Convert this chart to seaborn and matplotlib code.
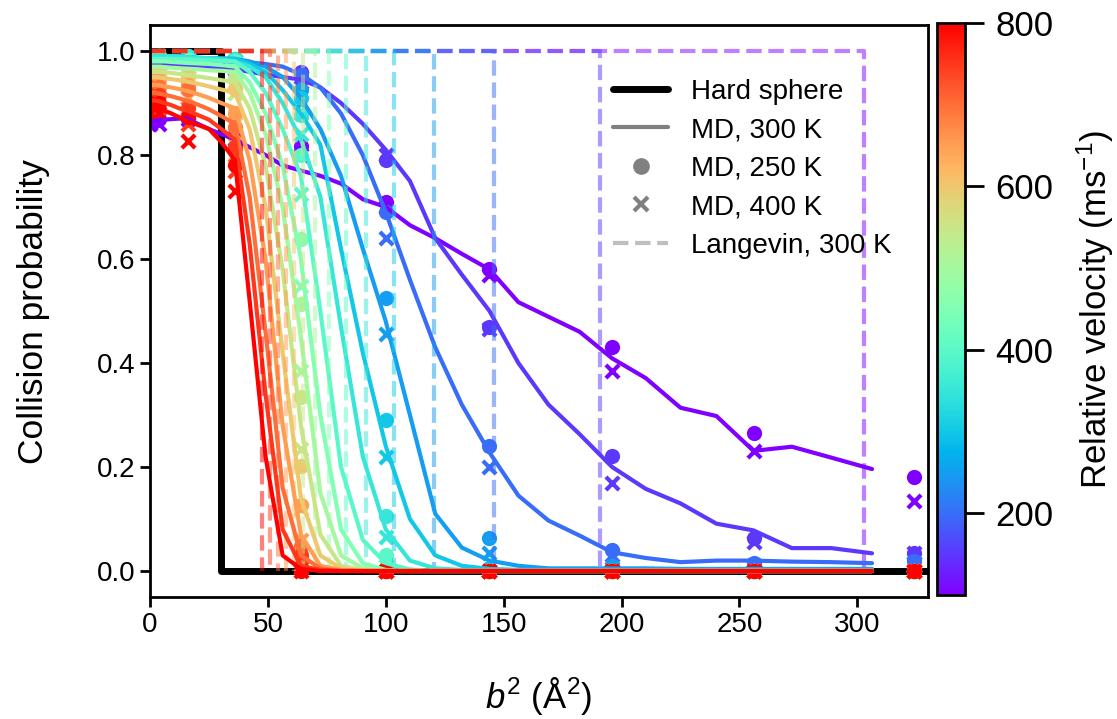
import numpy as np
import matplotlib
matplotlib.use("Agg")
import matplotlib.pyplot as plt
import seaborn as sns
from matplotlib.lines import Line2D

sns.set_style("ticks")
plt.rcParams["font.family"] = ["Liberation Sans", "DejaVu Sans"]
plt.rcParams["mathtext.fontset"] = "custom"
plt.rcParams["mathtext.rm"] = "Liberation Sans"
plt.rcParams["mathtext.it"] = "Liberation Sans:italic"
for key in ["text.color", "axes.labelcolor", "xtick.color", "ytick.color", "axes.edgecolor"]:
    plt.rcParams[key] = "black"

# relative velocities (m/s), one colour each
velocities = [100, 150, 200, 250, 300, 350, 400, 450, 500, 550, 600, 650, 700, 750, 800]

# impact parameters
b_line = [0, 0.5, 1, 1.5, 2, 2.5, 3, 3.5, 4, 4.5, 5, 5.5, 6, 6.5, 7, 7.5, 8, 8.5,
          9, 9.5, 10, 10.5, 11, 11.5, 12, 12.5, 13, 13.5, 14, 14.5, 15, 15.5, 16, 16.5, 17, 17.5]
b_marker = [0, 2, 4, 6, 8, 10, 12, 14, 16, 18]

hard_sphere_b2 = 30
langevin_b2 = [303, 191, 146, 120.5, 103.5, 91.5, 83, 76, 70, 65, 61, 57.5, 54.5, 51, 47.5]

# MD 300 K, one row per velocity, values at b_line
md300 = [
    [0.865, 0.865, 0.865, 0.866, 0.867, 0.868, 0.869, 0.87, 0.87, 0.86, 0.85, 0.84, 0.83, 0.815, 0.80, 0.78, 0.77, 0.76,
     0.745, 0.715, 0.70, 0.665, 0.64, 0.61, 0.58, 0.517, 0.489, 0.46, 0.409, 0.371, 0.314, 0.298, 0.231, 0.239, 0.218, 0.196],
    [0.975, 0.975, 0.975, 0.975, 0.975, 0.975, 0.974, 0.973, 0.972, 0.97, 0.968, 0.966, 0.965, 0.96, 0.955, 0.95, 0.945, 0.93,
     0.90, 0.86, 0.81, 0.75, 0.64, 0.57, 0.50, 0.40, 0.32, 0.263, 0.20, 0.158, 0.13, 0.091, 0.078, 0.044, 0.044, 0.034],
    [0.985, 0.985, 0.985, 0.985, 0.985, 0.985, 0.985, 0.984, 0.983, 0.982, 0.981, 0.98, 0.98, 0.978, 0.975, 0.97, 0.955, 0.93,
     0.88, 0.80, 0.69, 0.56, 0.43, 0.32, 0.228, 0.145, 0.097, 0.068, 0.036, 0.025, 0.017, 0.02, 0.02, 0.018, 0.017, 0.015],
    [0.99, 0.99, 0.99, 0.99, 0.99, 0.99, 0.99, 0.99, 0.988, 0.987, 0.986, 0.985, 0.985, 0.98, 0.97, 0.95, 0.91, 0.85,
     0.76, 0.62, 0.48, 0.30, 0.11, 0.045, 0.02, 0.01, 0.005, 0.005, 0.005, 0.005, 0.004, 0.004, 0.004, 0.004, 0.004, 0.004],
    [0.99, 0.99, 0.99, 0.99, 0.99, 0.99, 0.99, 0.99, 0.988, 0.987, 0.986, 0.986, 0.985, 0.975, 0.96, 0.925, 0.88, 0.82,
     0.62, 0.42, 0.24, 0.10, 0.03, 0.01, 0.004, 0.002, 0.002, 0.002, 0.002, 0.002, 0.002, 0.002, 0.002, 0.002, 0.002, 0.002],
    [0.99, 0.99, 0.99, 0.99, 0.99, 0.99, 0.99, 0.989, 0.988, 0.987, 0.986, 0.984, 0.98, 0.97, 0.95, 0.90, 0.83, 0.72,
     0.47, 0.22, 0.08, 0.02, 0.005, 0.002, 0, 0, 0, 0, 0, 0, 0, 0, 0, 0, 0, 0],
    [0.985, 0.985, 0.985, 0.985, 0.985, 0.985, 0.985, 0.984, 0.984, 0.983, 0.982, 0.981, 0.98, 0.96, 0.92, 0.85, 0.76, 0.50,
     0.20, 0.06, 0.015, 0.003, 0, 0, 0, 0, 0, 0, 0, 0, 0, 0, 0, 0, 0, 0],
    [0.98, 0.98, 0.98, 0.98, 0.98, 0.98, 0.979, 0.978, 0.977, 0.976, 0.975, 0.973, 0.97, 0.94, 0.88, 0.78, 0.60, 0.30,
     0.08, 0.015, 0.002, 0, 0, 0, 0, 0, 0, 0, 0, 0, 0, 0, 0, 0, 0, 0],
    [0.97, 0.97, 0.97, 0.97, 0.97, 0.969, 0.968, 0.967, 0.966, 0.965, 0.963, 0.962, 0.96, 0.92, 0.84, 0.70, 0.45, 0.15,
     0.03, 0.005, 0, 0, 0, 0, 0, 0, 0, 0, 0, 0, 0, 0, 0, 0, 0, 0],
    [0.96, 0.96, 0.96, 0.96, 0.96, 0.959, 0.958, 0.956, 0.954, 0.951, 0.948, 0.944, 0.94, 0.89, 0.78, 0.58, 0.28, 0.07,
     0.01, 0.002, 0, 0, 0, 0, 0, 0, 0, 0, 0, 0, 0, 0, 0, 0, 0, 0],
    [0.95, 0.95, 0.95, 0.95, 0.949, 0.948, 0.946, 0.944, 0.941, 0.937, 0.932, 0.926, 0.92, 0.85, 0.70, 0.42, 0.14, 0.03,
     0.005, 0, 0, 0, 0, 0, 0, 0, 0, 0, 0, 0, 0, 0, 0, 0, 0, 0],
    [0.935, 0.935, 0.935, 0.935, 0.934, 0.932, 0.93, 0.927, 0.923, 0.917, 0.91, 0.90, 0.89, 0.79, 0.60, 0.28, 0.07, 0.01,
     0.002, 0, 0, 0, 0, 0, 0, 0, 0, 0, 0, 0, 0, 0, 0, 0, 0, 0],
    [0.92, 0.92, 0.92, 0.92, 0.918, 0.916, 0.913, 0.909, 0.904, 0.897, 0.888, 0.875, 0.86, 0.72, 0.46, 0.16, 0.03, 0.005,
     0, 0, 0, 0, 0, 0, 0, 0, 0, 0, 0, 0, 0, 0, 0, 0, 0, 0],
    [0.905, 0.905, 0.905, 0.905, 0.903, 0.90, 0.896, 0.89, 0.885, 0.877, 0.868, 0.85, 0.83, 0.63, 0.34, 0.08, 0.01, 0.002,
     0, 0, 0, 0, 0, 0, 0, 0, 0, 0, 0, 0, 0, 0, 0, 0, 0, 0],
    [0.89, 0.89, 0.89, 0.89, 0.888, 0.885, 0.88, 0.873, 0.865, 0.858, 0.85, 0.825, 0.79, 0.52, 0.22, 0.03, 0.004, 0,
     0, 0, 0, 0, 0, 0, 0, 0, 0, 0, 0, 0, 0, 0, 0, 0, 0, 0],
]

# MD 250 K, values at b_marker
md250 = [
    [0.87, 0.87, 0.87, 0.84, 0.818, 0.71, 0.58, 0.43, 0.266, 0.18],
    [0.98, 0.98, 0.975, 0.97, 0.96, 0.79, 0.47, 0.221, 0.063, 0.035],
    [0.99, 0.99, 0.985, 0.98, 0.953, 0.69, 0.24, 0.04, 0.015, 0.02],
    [0.99, 0.99, 0.99, 0.985, 0.925, 0.525, 0.063, 0.01, 0, 0],
    [0.99, 0.99, 0.99, 0.985, 0.91, 0.29, 0.005, 0, 0, 0],
    [0.99, 0.99, 0.99, 0.985, 0.876, 0.106, 0, 0, 0, 0],
    [0.99, 0.99, 0.985, 0.98, 0.80, 0.03, 0, 0, 0, 0],
    [0.985, 0.985, 0.98, 0.975, 0.638, 0.005, 0, 0, 0, 0],
    [0.975, 0.975, 0.97, 0.962, 0.513, 0, 0, 0, 0, 0],
    [0.965, 0.965, 0.96, 0.945, 0.334, 0, 0, 0, 0, 0],
    [0.955, 0.955, 0.95, 0.927, 0.2025, 0, 0, 0, 0, 0],
    [0.945, 0.945, 0.935, 0.88, 0.126, 0, 0, 0, 0, 0],
    [0.93, 0.93, 0.927, 0.854, 0.049, 0, 0, 0, 0, 0],
    [0.915, 0.915, 0.89, 0.815, 0.03, 0, 0, 0, 0, 0],
    [0.90, 0.90, 0.873, 0.78, 0, 0, 0, 0, 0, 0],
]

# MD 400 K, values at b_marker
md400 = [
    [0.86, 0.86, 0.87, 0.83, 0.80, 0.70, 0.57, 0.385, 0.231, 0.135],
    [0.975, 0.975, 0.97, 0.965, 0.95, 0.80, 0.465, 0.17, 0.055, 0.035],
    [0.985, 0.985, 0.98, 0.975, 0.94, 0.64, 0.20, 0.03, 0.012, 0.015],
    [0.985, 0.985, 0.985, 0.98, 0.90, 0.455, 0.035, 0.005, 0, 0],
    [0.985, 0.985, 0.985, 0.98, 0.88, 0.22, 0, 0, 0, 0],
    [0.985, 0.985, 0.985, 0.98, 0.84, 0.065, 0, 0, 0, 0],
    [0.98, 0.98, 0.98, 0.97, 0.725, 0.01, 0, 0, 0, 0],
    [0.975, 0.975, 0.97, 0.96, 0.549, 0, 0, 0, 0, 0],
    [0.965, 0.965, 0.96, 0.95, 0.385, 0, 0, 0, 0, 0],
    [0.955, 0.955, 0.95, 0.92, 0.235, 0, 0, 0, 0, 0],
    [0.94, 0.94, 0.93, 0.88, 0.12, 0, 0, 0, 0, 0],
    [0.925, 0.925, 0.91, 0.84, 0.06, 0, 0, 0, 0, 0],
    [0.91, 0.91, 0.89, 0.80, 0.02, 0, 0, 0, 0, 0],
    [0.89, 0.89, 0.86, 0.77, 0.005, 0, 0, 0, 0, 0],
    [0.88, 0.88, 0.827, 0.73, 0, 0, 0, 0, 0, 0],
]

b2_line = np.array(b_line) ** 2
b2_marker = np.array(b_marker) ** 2

cmap = plt.get_cmap("rainbow")
norm = plt.Normalize(100, 800)

fig = plt.figure(figsize=(11.17, 7.19), dpi=100)
ax = fig.add_axes([0.1343, 0.1697, 0.6965, 0.7955])
cax = fig.add_axes([0.8389, 0.1725, 0.0251, 0.7955])

ax.plot([0, hard_sphere_b2, hard_sphere_b2, 400], [1, 1, 0, 0], color="black", lw=5, zorder=1)

for i, v in enumerate(velocities):
    c = cmap(norm(v))
    sns.lineplot(x=b2_line, y=md300[i], color=c, lw=3, ax=ax, sort=False, estimator=None)
    sns.scatterplot(x=b2_marker, y=md250[i], color=c, marker="o", s=120, linewidth=0, ax=ax)
    ax.scatter(b2_marker, md400[i], color=c, marker="x", s=90, linewidths=3)
    ax.plot([0, langevin_b2[i], langevin_b2[i]], [1, 1, 0], color=c, ls="--", lw=3, alpha=0.5)

ax.set_xlim(0, 330)
ax.set_ylim(-0.05, 1.05)
ax.set_xticks([0, 50, 100, 150, 200, 250, 300])
ax.set_yticks([0, 0.2, 0.4, 0.6, 0.8, 1.0])
ax.set_yticklabels(["0.0", "0.2", "0.4", "0.6", "0.8", "1.0"])
ax.tick_params(labelsize=20, width=2, length=7, color="black", labelcolor="black")
ax.set_xlabel(r"$b^2$ (Å$^2$)", fontsize=25, labelpad=27)
ax.set_ylabel("Collision probability", fontsize=25.5, labelpad=34)
for sp in ax.spines.values():
    sp.set_linewidth(2)
    sp.set_color("black")

handles = [
    Line2D([], [], color="black", lw=5),
    Line2D([], [], color="gray", lw=3),
    Line2D([], [], color="gray", marker="o", ls="none", ms=11),
    Line2D([], [], color="gray", marker="x", ls="none", ms=10, mew=3),
    Line2D([], [], color="gray", ls="--", lw=3, alpha=0.5),
]
labels = ["Hard sphere", "MD, 300 K", "MD, 250 K", "MD, 400 K", "Langevin, 300 K"]
ax.legend(handles, labels, loc="upper right", bbox_to_anchor=(0.985, 0.95), frameon=False,
          fontsize=20, labelspacing=0.45, handletextpad=0.8)

sm = plt.cm.ScalarMappable(norm=norm, cmap=cmap)
cb = fig.colorbar(sm, cax=cax)
cb.set_ticks([200, 400, 600, 800])
cb.ax.tick_params(labelsize=25, width=2, length=14, pad=8, color="black", labelcolor="black")
cb.outline.set_linewidth(2)
cb.set_label(r"Relative velocity (ms$^{-1}$)", fontsize=25, labelpad=15)

fig.savefig("out.png", dpi=100)
